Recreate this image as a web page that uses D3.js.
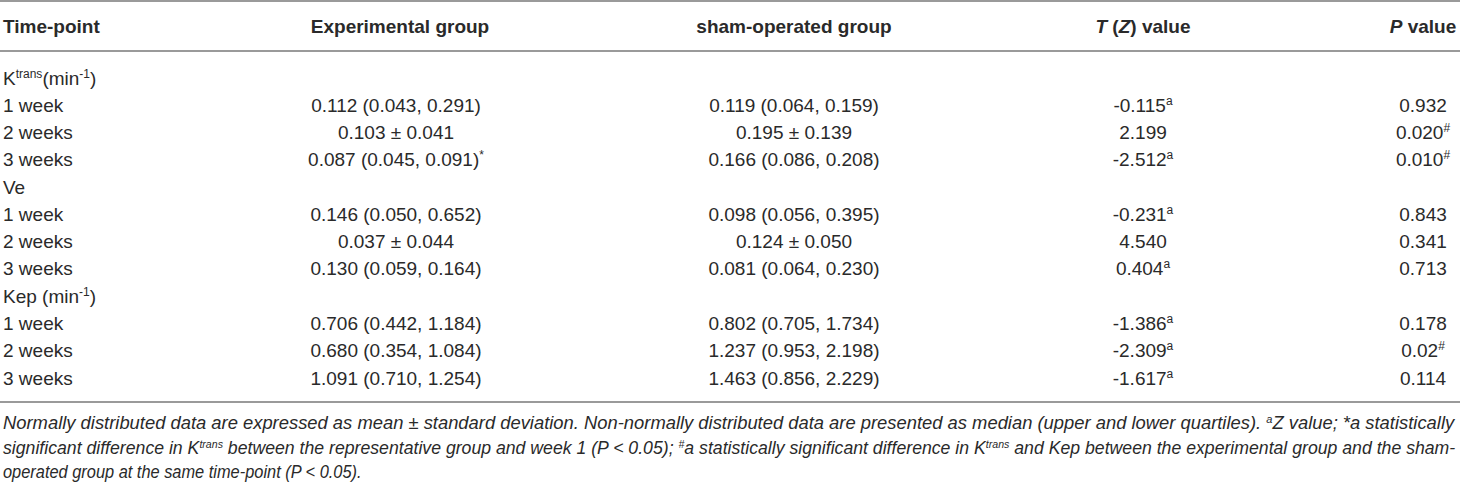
<!DOCTYPE html>
<html>
<head>
<meta charset="utf-8">
<script src="https://cdn.jsdelivr.net/npm/d3@7"></script>
<style>
  html, body { margin: 0; padding: 0; background: #fff; }
  svg { display: block; }
  text { font-family: "Liberation Sans", Arial, Helvetica, sans-serif; fill: #2a2a2a; }
</style>
</head>
<body>
<svg id="chart" width="1460" height="485"></svg>
<script>
// ---- DATA ----
const headers = ["Time-point", "Experimental group", "sham-operated group", "T (Z) value", "P value"];
const groupLabels = ["Ktrans", "Ve", "Kep"];
const timePoints = ["1 week", "2 weeks", "3 weeks"];
const expValues = ["0.112 (0.043, 0.291)", "0.103 ± 0.041", "0.087 (0.045, 0.091)",
                   "0.146 (0.050, 0.652)", "0.037 ± 0.044", "0.130 (0.059, 0.164)",
                   "0.706 (0.442, 1.184)", "0.680 (0.354, 1.084)", "1.091 (0.710, 1.254)"];
const expSup = ["", "", "*", "", "", "", "", "", ""];
const shamValues = ["0.119 (0.064, 0.159)", "0.195 ± 0.139", "0.166 (0.086, 0.208)",
                    "0.098 (0.056, 0.395)", "0.124 ± 0.050", "0.081 (0.064, 0.230)",
                    "0.802 (0.705, 1.734)", "1.237 (0.953, 2.198)", "1.463 (0.856, 2.229)"];
const shamSup = ["", "", "", "", "", "", "", "", ""];
const tValues = ["-0.115", "2.199", "-2.512", "-0.231", "4.540", "0.404", "-1.386", "-2.309", "-1.617"];
const tSup = ["a", "", "a", "a", "", "a", "a", "a", "a"];
const pValues = ["0.932", "0.020", "0.010", "0.843", "0.341", "0.713", "0.178", "0.02", "0.114"];
const pSup = ["", "#", "#", "", "", "", "", "#", ""];

// ---- LAYOUT ----
const W = 1460;
const svg = d3.select("#chart");
const FS = 19;          // body font size
const SUP = 12;         // superscript size

const rows = [];
groupLabels.forEach((g, gi) => {
  rows.push({ type: "group", key: g });
  timePoints.forEach((t, ti) => rows.push({ type: "data", label: t, idx: gi * 3 + ti }));
});

const y = d3.scaleLinear().domain([0, rows.length - 1]).range([84.5, 384.5]);
const colCenters = { exp: 396, sham: 794, t: 1143, p: 1423 };

const rule = (yy) => svg.append("line").attr("x1", 0).attr("x2", W).attr("y1", yy).attr("y2", yy)
  .attr("stroke", "#9a9a9a").attr("stroke-width", 2);
rule(1); rule(51); rule(402);

function supText(g, x, yy, main, sup, anchor) {
  const t = g.append("text").attr("x", x).attr("y", yy).attr("text-anchor", anchor)
    .style("font-size", FS + "px");
  t.append("tspan").text(main);
  if (sup) t.append("tspan").attr("dy", -7).style("font-size", SUP + "px").text(sup);
  return t;
}

// header
const hy = 33;
const hdr = svg.append("g");
const hText = (x, anchor) => hdr.append("text").attr("x", x).attr("y", hy).attr("text-anchor", anchor)
  .style("font-size", FS + "px").style("font-weight", "bold");
hText(3, "start").text(headers[0]);
hText(400, "middle").text(headers[1]);
hText(colCenters.sham, "middle").text(headers[2]);
const th = hText(colCenters.t, "middle");
th.append("tspan").style("font-style", "italic").text("T");
th.append("tspan").text(" (");
th.append("tspan").style("font-style", "italic").text("Z");
th.append("tspan").text(") value");
const ph = hText(colCenters.p, "middle");
ph.append("tspan").style("font-style", "italic").text("P");
ph.append("tspan").text(" value");

// body
const body = svg.append("g");
rows.forEach((r, i) => {
  const yy = y(i);
  if (r.type === "group") {
    const t = body.append("text").attr("x", 3).attr("y", yy).style("font-size", FS + "px");
    if (r.key === "Ktrans") {
      t.append("tspan").text("K");
      t.append("tspan").attr("dy", -7).style("font-size", SUP + "px").text("trans");
      t.append("tspan").attr("dy", 7).text("(min");
      t.append("tspan").attr("dy", -7).style("font-size", SUP + "px").text("-1");
      t.append("tspan").attr("dy", 7).text(")");
    } else if (r.key === "Kep") {
      t.append("tspan").text("Kep (min");
      t.append("tspan").attr("dy", -7).style("font-size", SUP + "px").text("-1");
      t.append("tspan").attr("dy", 7).text(")");
    } else {
      t.text(r.key);
    }
  } else {
    const k = r.idx;
    body.append("text").attr("x", 3).attr("y", yy).style("font-size", FS + "px").text(r.label);
    supText(body, colCenters.exp, yy, expValues[k], expSup[k], "middle");
    supText(body, colCenters.sham, yy, shamValues[k], shamSup[k], "middle");
    supText(body, colCenters.t, yy, tValues[k], tSup[k], "middle");
    supText(body, colCenters.p, yy, pValues[k], pSup[k], "middle");
  }
});

// footnote (condensed italic: natural text scaled horizontally to its measured width)
const foot = svg.append("g");
const FF = 17.5;
function footLine(yy, parts, len) {
  const t = foot.append("text").attr("x", 0).attr("y", 0)
    .style("font-size", FF + "px").style("font-style", "italic");
  let up = false;
  parts.forEach(p => {
    const s = t.append("tspan").text(p.t);
    if (p.sup) { s.attr("dy", -6).style("font-size", "10.5px"); up = true; }
    else if (up) { s.attr("dy", 6); up = false; }
  });
  const natural = t.node().getComputedTextLength();
  t.attr("transform", `translate(3,${yy}) scale(${len / natural},1)`);
}
footLine(428.5, [
  { t: "Normally distributed data are expressed as mean ± standard deviation. Non-normally distributed data are presented as median (upper and lower quartiles). " },
  { t: "a", sup: true },
  { t: "Z value; *a statistically" }
], 1452);
footLine(453.5, [
  { t: "significant difference in K" },
  { t: "trans", sup: true },
  { t: " between the representative group and week 1 (P < 0.05); " },
  { t: "#", sup: true },
  { t: "a statistically significant difference in K" },
  { t: "trans", sup: true },
  { t: " and Kep between the experimental group and the sham-" }
], 1453);
footLine(478, [
  { t: "operated group at the same time-point (P < 0.05)." }
], 359);
</script>
</body>
</html>
